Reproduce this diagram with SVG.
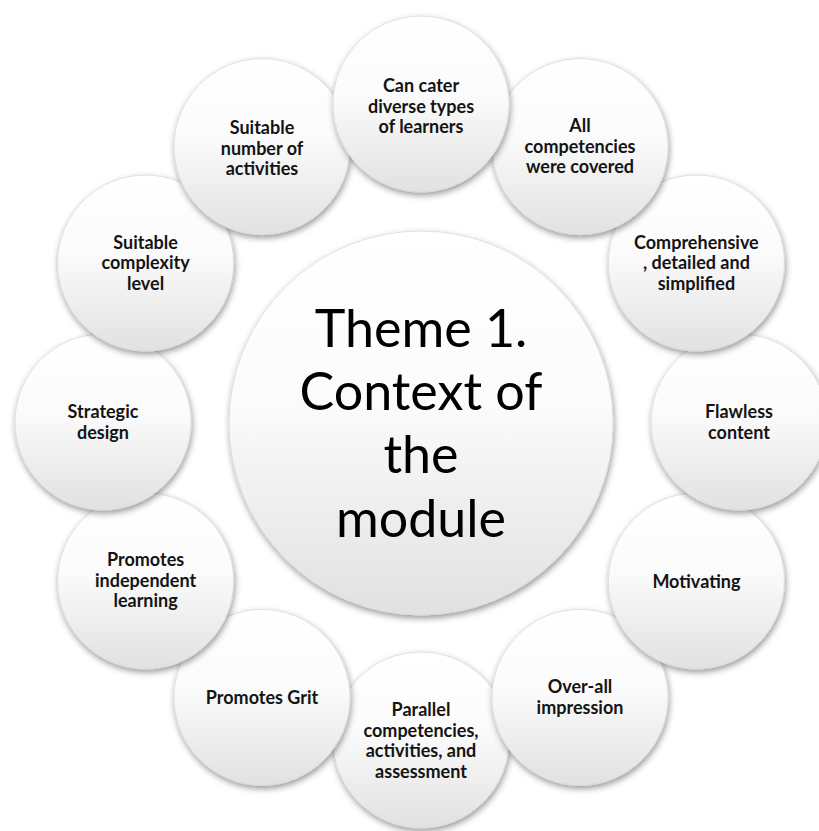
<svg xmlns="http://www.w3.org/2000/svg" width="819" height="831" viewBox="0 0 819 831">
  <defs>
    <linearGradient id="bubbleFill" x1="0" y1="0" x2="0" y2="1">
      <stop offset="0" stop-color="#ffffff"/>
      <stop offset="0.45" stop-color="#fbfbfb"/>
      <stop offset="1" stop-color="#e1e1e1"/>
    </linearGradient>
    <filter id="softShadow" x="-20%" y="-20%" width="140%" height="145%">
      <feDropShadow dx="1" dy="3" stdDeviation="3" flood-color="#000000" flood-opacity="0.4"/>
    </filter>
  </defs>
  <style>
    .bubble { fill: url(#bubbleFill); stroke: #d9d9d9; stroke-width: 0.8; filter: url(#softShadow); }
    .label { font-family: Lato, "Liberation Sans", sans-serif; font-weight: bold; font-size: 18px; fill: #141414; text-anchor: middle; }
    .title { font-family: Lato, "Liberation Sans", sans-serif; font-size: 52px; fill: #000000; text-anchor: middle; }
  </style>
  <rect width="819" height="831" fill="#ffffff"/>

  <!-- hub -->
  <g id="hub">
    <circle class="bubble" cx="421" cy="423" r="192"/>
    <text class="title" x="421" y="347">Theme 1.</text>
    <text class="title" x="421" y="410">Context of</text>
    <text class="title" x="421" y="473">the</text>
    <text class="title" x="421" y="537">module</text>
  </g>

  <!-- no connectors in this layout -->
  <g id="connectors"/>

  <!-- ring of twelve bubbles; lower ones first so upper bubbles sit on top -->
  <g id="ring">
    <g id="n7">
      <circle class="bubble" cx="421" cy="740" r="88"/>
      <text class="label" x="421" y="716">Parallel</text>
      <text class="label" x="421" y="736.5">competencies,</text>
      <text class="label" x="421" y="757">activities, and</text>
      <text class="label" x="421" y="777.5">assessment</text>
    </g>
    <g id="n6">
      <circle class="bubble" cx="580" cy="697.4" r="88"/>
      <text class="label" x="580" y="693">Over-all</text>
      <text class="label" x="580" y="713.5">impression</text>
    </g>
    <g id="n8">
      <circle class="bubble" cx="262" cy="697.4" r="88"/>
      <text class="label" x="262" y="704">Promotes Grit</text>
    </g>
    <g id="n5">
      <circle class="bubble" cx="696.4" cy="581" r="88"/>
      <text class="label" x="696.4" y="588">Motivating</text>
    </g>
    <g id="n9">
      <circle class="bubble" cx="145.6" cy="581" r="88"/>
      <text class="label" x="145.6" y="566">Promotes</text>
      <text class="label" x="145.6" y="586.5">independent</text>
      <text class="label" x="145.6" y="607">learning</text>
    </g>
    <g id="n4">
      <circle class="bubble" cx="739" cy="422" r="88"/>
      <text class="label" x="739" y="418">Flawless</text>
      <text class="label" x="739" y="438.5">content</text>
    </g>
    <g id="n10">
      <circle class="bubble" cx="103" cy="422" r="88"/>
      <text class="label" x="103" y="418">Strategic</text>
      <text class="label" x="103" y="438.5">design</text>
    </g>
    <g id="n3">
      <circle class="bubble" cx="696.4" cy="263" r="88"/>
      <text class="label" x="696.4" y="248.5">Comprehensive</text>
      <text class="label" x="696.4" y="269">, detailed and</text>
      <text class="label" x="696.4" y="289.5">simplified</text>
    </g>
    <g id="n11">
      <circle class="bubble" cx="145.6" cy="263" r="88"/>
      <text class="label" x="145.6" y="248.5">Suitable</text>
      <text class="label" x="145.6" y="269">complexity</text>
      <text class="label" x="145.6" y="289.5">level</text>
    </g>
    <g id="n2">
      <circle class="bubble" cx="580" cy="146.6" r="88"/>
      <text class="label" x="580" y="132">All</text>
      <text class="label" x="580" y="152.5">competencies</text>
      <text class="label" x="580" y="173">were covered</text>
    </g>
    <g id="n12">
      <circle class="bubble" cx="262" cy="146.6" r="88"/>
      <text class="label" x="262" y="134">Suitable</text>
      <text class="label" x="262" y="154.5">number of</text>
      <text class="label" x="262" y="175">activities</text>
    </g>
    <g id="n1">
      <circle class="bubble" cx="421" cy="104" r="88"/>
      <text class="label" x="421" y="92">Can cater</text>
      <text class="label" x="421" y="112.5">diverse types</text>
      <text class="label" x="421" y="133">of learners</text>
    </g>
  </g>
</svg>
